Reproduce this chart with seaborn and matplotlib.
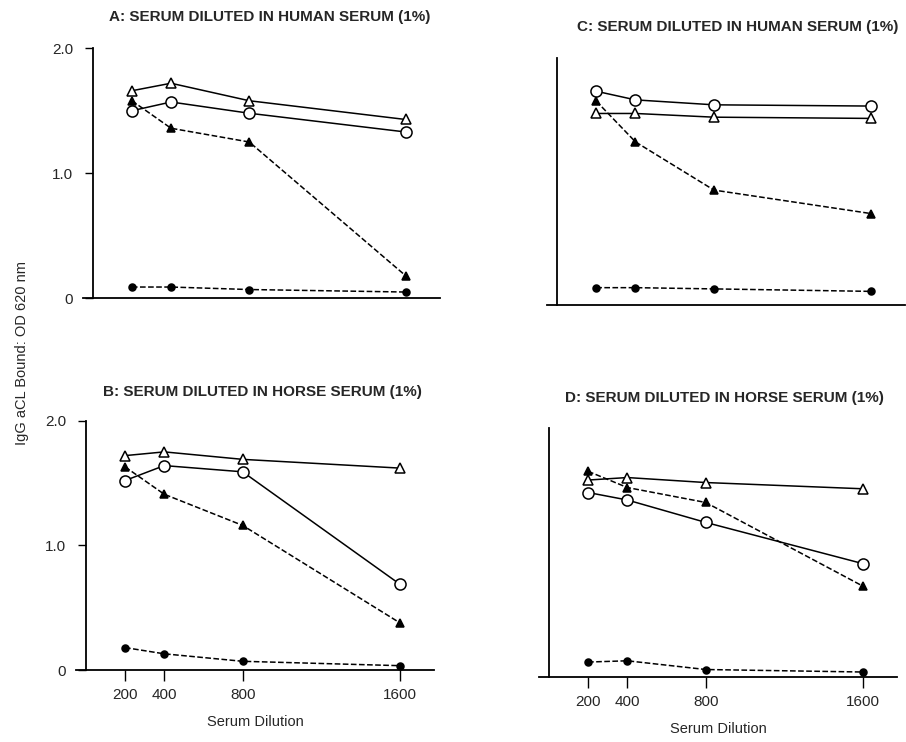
import numpy as np
import pandas as pd
import matplotlib.pyplot as plt
import seaborn as sns

sns.set_theme(style="white")
plt.rcParams['font.family'] = ['Liberation Sans', 'DejaVu Sans']

# serum dilutions (x)
dilution = [200, 400, 800, 1600]

# OD 620 nm, one list per series and panel
# open triangle (solid), open circle (solid), filled triangle (dashed), filled circle (dashed)
a_open_tri = [1.66, 1.72, 1.58, 1.43]
a_open_circ = [1.50, 1.57, 1.48, 1.33]
a_fill_tri = [1.58, 1.36, 1.25, 0.18]
a_fill_circ = [0.09, 0.09, 0.07, 0.05]

c_open_tri = [1.55, 1.55, 1.52, 1.51]
c_open_circ = [1.73, 1.66, 1.62, 1.61]
c_fill_tri = [1.65, 1.32, 0.93, 0.74]
c_fill_circ = [0.14, 0.14, 0.13, 0.11]

b_open_tri = [1.72, 1.75, 1.69, 1.62]
b_open_circ = [1.52, 1.64, 1.59, 0.69]
b_fill_tri = [1.63, 1.41, 1.16, 0.38]
b_fill_circ = [0.18, 0.13, 0.07, 0.035]

d_open_tri = [1.58, 1.60, 1.56, 1.51]
d_open_circ = [1.48, 1.42, 1.24, 0.91]
d_fill_tri = [1.65, 1.52, 1.40, 0.73]
d_fill_circ = [0.12, 0.13, 0.06, 0.04]

titles = {
    'A': 'A: SERUM DILUTED IN HUMAN SERUM (1%)',
    'B': 'B: SERUM DILUTED IN HORSE SERUM (1%)',
    'C': 'C: SERUM DILUTED IN HUMAN SERUM (1%)',
    'D': 'D: SERUM DILUTED IN HORSE SERUM (1%)',
}
panels = {
    'A': (a_open_tri, a_open_circ, a_fill_tri, a_fill_circ),
    'B': (b_open_tri, b_open_circ, b_fill_tri, b_fill_circ),
    'C': (c_open_tri, c_open_circ, c_fill_tri, c_fill_circ),
    'D': (d_open_tri, d_open_circ, d_fill_tri, d_fill_circ),
}
y_ticks = [0, 1.0, 2.0]
y_tick_labels = ['0', '1.0', '2.0']

# axes rectangles in figure fractions
rects = {
    'A': [0.0916, 0.598, 0.394, 0.337],
    'C': [0.604, 0.589, 0.395, 0.333],
    'B': [0.0839, 0.097, 0.395, 0.336],
    'D': [0.595, 0.0876, 0.395, 0.336],
}
title_pos = {'A': (0.298, 0.977), 'C': (0.814, 0.963), 'B': (0.290, 0.472), 'D': (0.800, 0.464)}

styles = [
    dict(marker='^', markerfacecolor='white', markersize=7, linestyle='-'),
    dict(marker='o', markerfacecolor='white', markersize=8, linestyle='-'),
    dict(marker='^', markerfacecolor='black', markersize=6, linestyle='--'),
    dict(marker='o', markerfacecolor='black', markersize=5, linestyle='--'),
]

fig = plt.figure(figsize=(9.06, 7.42), dpi=100)

for key, series in panels.items():
    ax = fig.add_axes(rects[key])
    for vals, st in zip(series, styles):
        df = pd.DataFrame({'dilution': dilution, 'od': vals})
        sns.lineplot(data=df, x='dilution', y='od', ax=ax, color='black',
                     linewidth=1.1, markeredgecolor='black', markeredgewidth=1.1,
                     dashes=False, **st)
    ax.set_xlim(-50, 1775)
    ax.set_ylim(0, 2.0)
    ax.spines['left'].set_position(('data', 0))
    ax.spines['top'].set_visible(False)
    ax.spines['right'].set_visible(False)
    for s in ['left', 'bottom']:
        ax.spines[s].set_color('black')
        ax.spines[s].set_linewidth(1.3)
    ax.set_xlabel('')
    ax.set_ylabel('')
    if key == 'A' or key == 'B':
        ax.set_yticks(y_ticks)
        ax.set_yticklabels(y_tick_labels, fontsize=11)
        ax.tick_params(axis='y', left=True, length=6, width=1, color='black', pad=8)
    else:
        ax.set_yticks([])
    if key in ('B', 'D'):
        ax.set_xticks(dilution)
        ax.set_xticklabels([str(d) for d in dilution], fontsize=11)
        ax.tick_params(axis='x', bottom=True, length=8, width=1, color='black', pad=5)
        ax.set_xlabel('Serum Dilution', fontsize=10.5, labelpad=9)
    else:
        ax.set_xticks([])
    ax.patch.set_alpha(0)
    tx, ty = title_pos[key]
    fig.text(tx, ty, titles[key], ha='center', va='center', fontsize=11,
             fontweight='bold')

fig.text(0.024, 0.524, 'IgG aCL Bound: OD 620 nm', rotation=90, ha='center',
         va='center', fontsize=10.5)

fig.savefig('out.png', dpi=100)
